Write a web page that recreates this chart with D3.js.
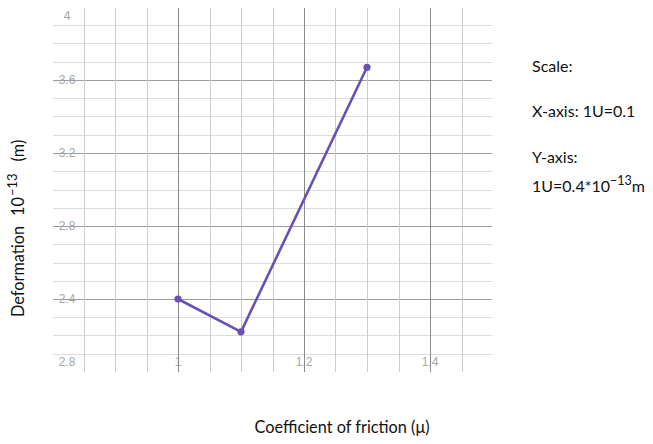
<!DOCTYPE html>
<html>
<head>
<meta charset="utf-8">
<script src="https://cdn.jsdelivr.net/npm/d3@7"></script>
<style>
  html, body { margin: 0; padding: 0; background: #fff; }
  svg { display: block; }
</style>
</head>
<body>
<svg id="chart" width="653" height="444"></svg>
<script>
// Friction coefficient vs. deformation
const friction = [1.0, 1.1, 1.3];
const deformation = [2.4, 2.22, 3.67];

const xTickValues = [1.0, 1.2, 1.4];
const xTickLabels = ["1", "1.2", "1.4"];
const yTickValues = [2.0, 2.4, 2.8, 3.2, 3.6, 4.0];
const yTickLabels = ["2.8", "2.4", "2.8", "3.2", "3.6", "4"];

const xMinor = d3.range(17, 30).map(i => i * 0.05);   // 0.85 .. 1.45
const yMinor = d3.range(21, 40).map(i => i * 0.1);    // 2.1 .. 3.9

const svg = d3.select("#chart");

const x = d3.scaleLinear().domain([0.8, 1.5]).range([52, 493]);
const y = d3.scaleLinear().domain([2, 4]).range([372, 7]);

const isMajorX = v => xTickValues.some(t => Math.abs(t - v) < 1e-6);
const isMajorY = v => yTickValues.some(t => Math.abs(t - v) < 1e-6);

// tick labels sit under the grid lines
const labelFont = "'Liberation Sans', Arial, sans-serif";
svg.append("g").selectAll("text")
  .data(yTickValues)
  .join("text")
  .attr("x", 67)
  .attr("y", d => Math.min(Math.max(y(d), y(4) + 9), y(2) - 10))
  .attr("dy", "0.36em")
  .attr("text-anchor", "middle")
  .attr("font-family", labelFont)
  .attr("font-size", 12)
  .attr("fill", "#a6a6a6")
  .text((d, i) => yTickLabels[i]);

svg.append("g").selectAll("text")
  .data(xTickValues)
  .join("text")
  .attr("x", d => x(d))
  .attr("y", 362)
  .attr("dy", "0.36em")
  .attr("text-anchor", "middle")
  .attr("font-family", labelFont)
  .attr("font-size", 12)
  .attr("fill", "#a6a6a6")
  .text((d, i) => xTickLabels[i]);

// grid
const grid = svg.append("g").attr("shape-rendering", "crispEdges");
grid.selectAll("line.h")
  .data(yMinor)
  .join("line")
  .attr("class", "h")
  .attr("x1", x(0.8) + 1).attr("x2", x(1.5) - 1)
  .attr("y1", d => Math.round(y(d)) + 0.5).attr("y2", d => Math.round(y(d)) + 0.5)
  .attr("stroke", d => isMajorY(d) ? "#9c9c9c" : "#dcdcdc")
  .attr("stroke-width", 1.3);

grid.selectAll("line.v")
  .data(xMinor)
  .join("line")
  .attr("class", "v")
  .attr("x1", d => Math.round(x(d)) + 0.5).attr("x2", d => Math.round(x(d)) + 0.5)
  .attr("y1", y(4) + 1).attr("y2", y(2))
  .attr("stroke", d => isMajorX(d) ? "#8a8a8a" : "#cbcbcb")
  .attr("stroke-width", 1.3);

// data line
const line = d3.line()
  .x((d, i) => x(friction[i]))
  .y(d => y(d));

svg.append("path")
  .datum(deformation)
  .attr("d", line)
  .attr("fill", "none")
  .attr("stroke", "#6a4fb6")
  .attr("stroke-width", 2.6)
  .attr("stroke-linejoin", "round");

svg.append("g").selectAll("circle")
  .data(deformation)
  .join("circle")
  .attr("cx", (d, i) => x(friction[i]))
  .attr("cy", d => y(d))
  .attr("r", 3.6)
  .attr("fill", "#6a4fb6");

// axis titles
const titleFont = "Lato, 'Open Sans', sans-serif";
svg.append("text")
  .attr("x", 342)
  .attr("y", 433)
  .attr("text-anchor", "middle")
  .attr("font-family", titleFont)
  .attr("font-size", 16.3)
  .attr("fill", "#111")
  .text("Coefficient of friction (μ)");

const yTitle = svg.append("text")
  .attr("transform", "translate(24,317) rotate(-90)")
  .attr("text-anchor", "start")
  .attr("font-family", titleFont)
  .attr("font-size", 16.3)
  .attr("fill", "#111");
yTitle.append("tspan").text("Deformation");
yTitle.append("tspan").attr("dx", 10).text("10");
yTitle.append("tspan").attr("dy", -7).attr("dx", 1).attr("font-size", 13).text("−13");
yTitle.append("tspan").attr("dy", 7).attr("dx", 12).text("(m)");

// scale note
const note = svg.append("g")
  .attr("font-family", titleFont)
  .attr("font-size", 16)
  .attr("fill", "#111");
note.append("text").attr("x", 532).attr("y", 72).text("Scale:");
note.append("text").attr("x", 532).attr("y", 117).text("X-axis: 1U=0.1");
note.append("text").attr("x", 532).attr("y", 163).text("Y-axis:");
const yScaleNote = note.append("text").attr("x", 532).attr("y", 192);
yScaleNote.append("tspan").text("1U=0.4*10");
yScaleNote.append("tspan").attr("dy", -7).attr("font-size", 12.5).text("−13");
yScaleNote.append("tspan").attr("dy", 7).text("m");
</script>
</body>
</html>
